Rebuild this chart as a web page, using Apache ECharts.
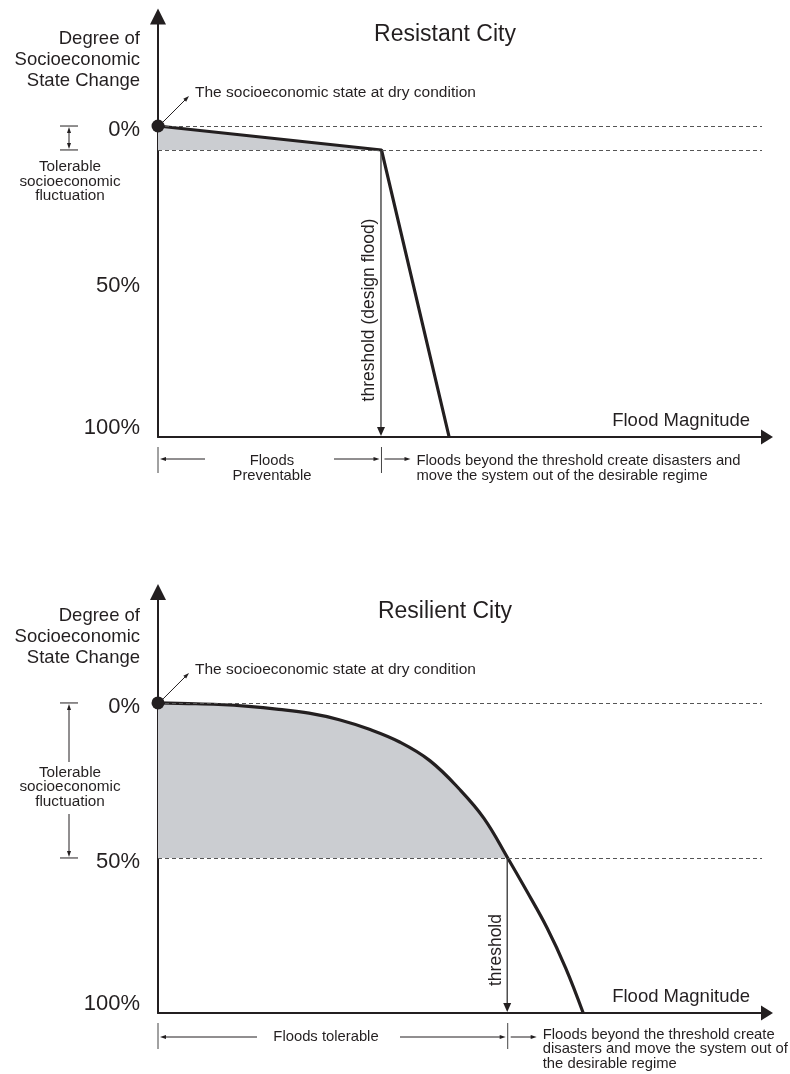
<!DOCTYPE html>
<html><head><meta charset="utf-8">
<script src="https://cdn.jsdelivr.net/npm/echarts@6/dist/echarts.min.js"></script>
<style>html,body{margin:0;padding:0;background:#fff}#c{width:790px;height:1074px}</style>
</head><body><div id="c"></div>
<script>
// ---- data (flood magnitude in % of x-axis length, state change in %) ----
const resistantX = [0, 37, 48.2];
const resistantY = [0, 7.7, 100];
const resistantTolerance = 7.7;
const resistantThresholdIndex = 1;

const resilientX = [0, 5, 10, 15, 20, 25, 30, 35, 40, 45, 50, 54, 57.9, 61, 64.4, 67.5, 70.4];
const resilientY = [0, 0.2, 0.5, 1.1, 2.05, 3.3, 5.4, 8.5, 12.6, 18.6, 28.0, 37.3, 50, 60.5, 72.5, 85.5, 100];
const resilientTolerance = 50;
const resilientThresholdIndex = 12;

const yTicks = [0, 50, 100];
const yTickLabels = ['0%', '50%', '100%'];

const titles = ['Resistant City', 'Resilient City'];
const yAxisTitle = 'Degree of\nSocioeconomic\nState Change';
const xAxisTitle = 'Flood Magnitude';
const pointerText = 'The socioeconomic state at dry condition';
const tolerableText = 'Tolerable\nsocioeconomic\nfluctuation';
const thresholdLabels = ['threshold (design flood)', 'threshold'];
const leftRangeTexts = ['Floods\nPreventable', 'Floods tolerable'];
const rightRangeTexts = ['Floods beyond the threshold create disasters and\nmove the system out of the desirable regime',
  'Floods beyond the threshold create\ndisasters and move the system out of\nthe desirable regime'];

// ---- styling ----
const FONT = '"Liberation Sans", Arial, Helvetica, sans-serif';
const INK = '#231f20';
const SHADE = '#cbcdd1';

const chart = echarts.init(document.getElementById('c'));

function pairs(xs, ys, n) {
  const out = [];
  const len = n == null ? xs.length : n;
  for (let i = 0; i < len; i++) out.push([xs[i], ys[i]]);
  return out;
}

const cfg = [
  { X: resistantX, Y: resistantY, tol: resistantTolerance, thr: resistantThresholdIndex, yMin: -33,
    grid: { left: 158, right: 28, top: 23.4, height: 413.6 }, smooth: false, padD: 8 },
  { X: resilientX, Y: resilientY, tol: resilientTolerance, thr: resilientThresholdIndex, yMin: -33.5,
    grid: { left: 158, right: 28, top: 599.1, height: 413.9 }, smooth: 0.4, padD: 8 }
];

const grids = [], xAxes = [], yAxes = [], series = [];
cfg.forEach((c, gi) => {
  grids.push(Object.assign({ containLabel: false, outerBoundsMode: 'none' }, c.grid));
  xAxes.push({ type: 'value', gridIndex: gi, min: 0, max: 100,
    axisLine: { show: true, onZero: false, lineStyle: { color: INK, width: 2 } },
    axisTick: { show: false }, axisLabel: { show: false }, splitLine: { show: false } });
  yAxes.push({ type: 'value', gridIndex: gi, inverse: true, min: c.yMin, max: 100,
    axisLine: { show: true, onZero: false, lineStyle: { color: INK, width: 2 } },
    axisTick: { show: false }, splitLine: { show: false },
    axisLabel: { customValues: yTicks, margin: 18, color: INK, fontFamily: FONT, fontSize: 22,
      formatter: v => { const i = yTicks.indexOf(v); if (i < 0) return ''; return (v === 100 ? '{u|' : '{d|') + yTickLabels[i] + '}'; },
      rich: { d: { fontSize: 22, fontFamily: FONT, color: INK, padding: [c.padD, 0, 0, 0] },
              u: { fontSize: 22, fontFamily: FONT, color: INK, padding: [0, 0, 18, 0] } } } });
  series.push({ type: 'line', xAxisIndex: gi, yAxisIndex: gi, data: pairs(c.X, c.Y, c.thr + 1),
    symbol: 'none', smooth: c.smooth, clip: false, silent: true, z: 1,
    lineStyle: { width: 0, opacity: 0 }, areaStyle: { color: SHADE, opacity: 1, origin: c.tol } });
  series.push({ type: 'line', xAxisIndex: gi, yAxisIndex: gi, data: pairs(c.X, c.Y),
    symbol: 'none', smooth: c.smooth, clip: false, silent: true, z: 3,
    lineStyle: { color: INK, width: 3.2 },
    markLine: { silent: true, symbol: 'none', label: { show: false },
      lineStyle: { color: '#555', width: 1.1, type: [4, 3] },
      data: [{ yAxis: 0 }, { yAxis: c.tol }] } });
  series.push({ type: 'scatter', xAxisIndex: gi, yAxisIndex: gi, data: [[c.X[0], c.Y[0]]],
    symbolSize: 13, itemStyle: { color: INK, opacity: 1 }, z: 5, silent: true });
});

chart.setOption({ animation: false, grid: grids, xAxis: xAxes, yAxis: yAxes, series: series });

// ---- annotations ----
function head(tx, ty, dx, dy, len, wid) {
  const bx = tx - dx * len, by = ty - dy * len;
  const px = -dy * wid / 2, py = dx * wid / 2;
  return { type: 'polygon', silent: true, z: 100,
    shape: { points: [[tx, ty], [bx + px, by + py], [bx - px, by - py]] }, style: { fill: INK } };
}
function seg(x1, y1, x2, y2, w, color) {
  return { type: 'line', silent: true, z: 100, shape: { x1, y1, x2, y2 },
    style: { stroke: color || INK, lineWidth: w || 1 } };
}
function arrow(x1, y1, x2, y2, len, wid, w, color) {
  const L = Math.hypot(x2 - x1, y2 - y1), dx = (x2 - x1) / L, dy = (y2 - y1) / L;
  return [seg(x1, y1, x2 - dx * len * 0.6, y2 - dy * len * 0.6, w, color), head(x2, y2, dx, dy, len, wid)];
}
function txt(x, y, text, size, align, lineHeight, extra) {
  return Object.assign({ type: 'text', x, y, silent: true, z: 100,
    style: { text, fontSize: size, fontFamily: FONT, fill: INK, align: align || 'left',
      verticalAlign: 'middle', lineHeight: lineHeight || Math.round(size) } }, extra || {});
}

const g = [];
const layout = [
  { off: 0, thrLabelY: 310, tolTextY: 181.5, split: false, leftTextX: 272, leftA: 205, leftB: 334,
    rangeDy: 22, leftTextY: 468.5, rightTextY: 468.5 },
  { off: 577, thrLabelY: 950, tolTextY: 787, split: true, leftTextX: 326, leftA: 257, leftB: 400,
    rangeDy: 24, leftTextY: 1037, rightTextY: 1049 }
];
cfg.forEach((c, gi) => {
  const L = layout[gi];
  const P = (x, y) => chart.convertToPixel({ gridIndex: gi }, [x, y]);
  const origin = P(0, 0);
  const axisTop = P(0, c.yMin);
  const axisEnd = P(100, 100);
  const tolP = P(0, c.tol);
  const thrP = P(c.X[c.thr], c.Y[c.thr]);
  const thrBase = P(c.X[c.thr], 100);
  const ax = origin[0], ay = axisEnd[1];

  // axis arrowheads
  g.push(head(ax, axisTop[1] - 15, 0, -1, 16, 16));
  g.push(head(axisEnd[0] + 11, ay, 1, 0, 12, 15));

  // titles
  g.push(txt(445, 35 + L.off, titles[gi], 23, 'center'));
  g.push(txt(140, 60 + L.off, yAxisTitle, 18.5, 'right', 21));
  g.push(txt(750, ay - 16, xAxisTitle, 18.5, 'right'));

  // pointer to the dry-condition state
  g.push(...arrow(origin[0] + 5, origin[1] - 4, origin[0] + 31, origin[1] - 30, 6, 4, 1));
  g.push(txt(origin[0] + 37, origin[1] - 33, pointerText, 15.5, 'left'));

  // tolerable fluctuation bar
  const bx = 69;
  g.push(seg(bx - 9, origin[1], bx + 9, origin[1], 1));
  g.push(seg(bx - 9, tolP[1], bx + 9, tolP[1], 1));
  if (!L.split) {
    const mid = (origin[1] + tolP[1]) / 2;
    g.push(...arrow(bx, mid, bx, origin[1] + 1, 6, 4, 1));
    g.push(...arrow(bx, mid, bx, tolP[1] - 1, 6, 4, 1));
  } else {
    g.push(...arrow(bx, L.tolTextY - 25, bx, origin[1] + 1, 6, 4, 1));
    g.push(...arrow(bx, L.tolTextY + 27, bx, tolP[1] - 1, 6, 4, 1));
  }
  g.push(txt(70, L.tolTextY, tolerableText, 15.3, 'center', 14.5));

  // threshold arrow and label
  g.push(...arrow(thrP[0] - 0.5, thrP[1], thrP[0] - 0.5, thrBase[1] - 1, 9, 8, 1.3, '#333'));
  g.push(txt(thrP[0] - 12, L.thrLabelY, thresholdLabels[gi], 17.5, 'center', 18, { rotation: Math.PI / 2 }));

  // range annotations below the x axis
  const ry = ay + L.rangeDy;
  g.push(seg(ax, ay + 10, ax, ay + 36, 1, '#444'));
  g.push(seg(thrP[0], ay + 10, thrP[0], ay + 36, 1, '#444'));
  g.push(...arrow(L.leftA, ry, ax + 2, ry, 6, 4, 1));
  g.push(...arrow(L.leftB, ry, thrP[0] - 2, ry, 6, 4, 1));
  g.push(...arrow(thrP[0] + 3, ry, thrP[0] + 29, ry, 6, 4, 1));
  g.push(txt(L.leftTextX, L.leftTextY, leftRangeTexts[gi], 14.8, 'center', 15));
  g.push(txt(thrP[0] + 35, L.rightTextY, rightRangeTexts[gi], 14.8, 'left', 14.5));
});

chart.setOption({ graphic: { elements: g } });
</script>
</body></html>
